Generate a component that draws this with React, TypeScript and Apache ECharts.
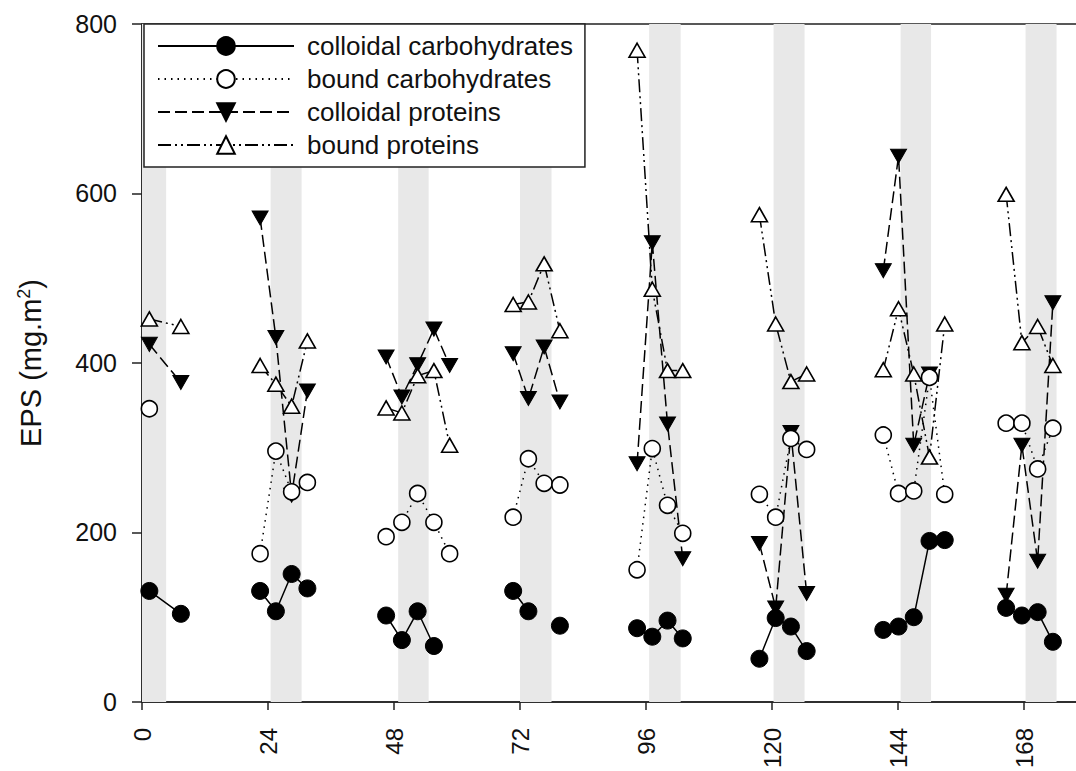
import React, { useEffect, useRef } from "react";
import * as echarts from "echarts";

// Sampling times (h) for each day-group of measurements
const sampleTimes: number[][] = [
  [1.4, 7.4],
  [22.5, 25.5, 28.5, 31.5],
  [46.5, 49.5, 52.5, 55.6, 58.6],
  [70.7, 73.6, 76.6, 79.6],
  [94.3, 97.2, 100.1, 103.0],
  [117.6, 120.7, 123.6, 126.6],
  [141.2, 144.1, 147.0, 150.0, 152.9],
  [164.6, 167.6, 170.6, 173.5],
];

const colloidalCarbs: (number | null)[][] = [
  [131, 104],
  [131, 107, 151, 134],
  [102, 73, 107, 66, null],
  [131, 107, null, 90],
  [87, 77, 96, 75],
  [51, 99, 89, 60],
  [85, 89, 100, 190, 191],
  [111, 102, 106, 71],
];

const boundCarbs: (number | null)[][] = [
  [346, null],
  [175, 296, 248, 259],
  [195, 212, 246, 212, 175],
  [218, 287, 258, 256],
  [156, 299, 232, 199],
  [245, 218, 311, 298],
  [315, 246, 249, 383, 245],
  [329, 329, 275, 323],
];

const colloidalProteins: (number | null)[][] = [
  [422, 377],
  [571, 430, 244, 367],
  [407, 360, 398, 440, 397],
  [411, 358, 419, 354],
  [281, 542, 328, 169],
  [187, 111, 318, 128],
  [509, 644, 303, 387, null],
  [126, 303, 166, 471],
];

const boundProteins: (number | null)[][] = [
  [452, 443],
  [397, 375, 349, 426],
  [347, 341, 385, 391, 303],
  [469, 472, 517, 438],
  [769, 487, 391, 391],
  [575, 446, 378, 387],
  [392, 464, 387, 289, 446],
  [599, 424, 443, 397],
];

// Shaded (dark) periods, hours
const darkBands: [number, number][] = [
  [0, 4.6],
  [24.5, 30.4],
  [48.8, 54.6],
  [72, 78],
  [96.6, 102.6],
  [120.3, 126.2],
  [144.5, 150.3],
  [168.3, 174.2],
];

const seriesNames = [
  "colloidal carbohydrates",
  "bound carbohydrates",
  "colloidal proteins",
  "bound proteins",
];

const xTicks = { min: 0, max: 180, interval: 24 };
const yTicks = { min: 0, max: 800, interval: 200 };

const FONT = "'Liberation Sans', Arial, Helvetica, sans-serif";

function buildData(groups: (number | null)[][]) {
  const out: any[] = [];
  groups.forEach((vals, g) => {
    const ts = sampleTimes[g];
    vals.forEach((v, i) => out.push([ts[i], v === null ? "-" : v]));
    out.push([ts[ts.length - 1] + 1, "-"]);
  });
  return out;
}

const DOWN_TRI = "path://M0,0 L16,0 L8,14 Z";

export default function App() {
  const ref = useRef<HTMLDivElement>(null);
  useEffect(() => {
    document.body.style.margin = "0";
    document.body.style.overflow = "hidden";
    if (!ref.current) return;
    const chart = echarts.init(ref.current, undefined, { renderer: "svg" });
    const line = (type: any) => ({ color: "#000", width: 1.5, type });
    chart.setOption({
      animation: false,
      backgroundColor: "#fff",
      grid: {
        left: 142,
        right: 0,
        top: 24,
        bottom: 67,
        show: true,
        borderColor: "#222",
        borderWidth: 1.5,
        backgroundColor: "transparent",
      },
      legend: {
        data: seriesNames,
        orient: "vertical",
        left: 144,
        top: 24,
        itemWidth: 136,
        itemHeight: 22,
        itemGap: 7,
        padding: [9, 12, 9, 13],
        backgroundColor: "#fff",
        borderColor: "#222",
        borderWidth: 1.5,
        borderRadius: 0,
        selectedMode: false,
        z: 10,
        textStyle: {
          fontFamily: FONT,
          fontSize: 26,
          color: "#111",
          padding: [0, 0, 0, 8],
        },
      },
      xAxis: {
        type: "value",
        min: xTicks.min,
        max: xTicks.max,
        interval: xTicks.interval,
        axisLine: { show: true, onZero: false, lineStyle: { color: "#222", width: 1.5 } },
        axisTick: { show: true, length: 8, lineStyle: { color: "#222", width: 1.5 } },
        splitLine: { show: false },
        axisLabel: {
          rotate: 90,
          margin: 26,
          fontFamily: FONT,
          fontSize: 24,
          color: "#111",
          showMaxLabel: false,
        },
      },
      yAxis: {
        type: "value",
        min: yTicks.min,
        max: yTicks.max,
        interval: yTicks.interval,
        name: "{n|EPS (mg.m}{sup|2}{n|)}",
        nameLocation: "middle",
        nameRotate: 90,
        nameGap: 95,
        nameTextStyle: {
          fontFamily: FONT,
          fontSize: 29,
          color: "#111",
          rich: {
            n: { fontFamily: FONT, fontSize: 29, color: "#111", lineHeight: 32 },
            sup: {
              fontFamily: FONT,
              fontSize: 18,
              color: "#111",
              lineHeight: 18,
              verticalAlign: "top",
            },
          },
        },
        axisLine: { show: true, lineStyle: { color: "#222", width: 1.5 } },
        axisTick: { show: true, length: 10, lineStyle: { color: "#222", width: 1.5 } },
        splitLine: { show: false },
        axisLabel: { margin: 25, fontFamily: FONT, fontSize: 25, color: "#111" },
      },
      series: [
        {
          name: "bands",
          type: "line",
          data: [[0, "-"]],
          silent: true,
          z: 1,
          symbol: "none",
          markArea: {
            silent: true,
            itemStyle: { color: "#e8e8e8" },
            data: darkBands.map(([a, b]) => [{ xAxis: a }, { xAxis: b }]),
          },
        },
        {
          name: seriesNames[0],
          type: "line",
          data: buildData(colloidalCarbs),
          symbol: "circle",
          symbolSize: 17,
          connectNulls: false,
          z: 3,
          itemStyle: { color: "#000", borderColor: "#000", borderWidth: 1 },
          lineStyle: line("solid"),
        },
        {
          name: seriesNames[2],
          type: "line",
          data: buildData(colloidalProteins),
          symbol: DOWN_TRI,
          symbolSize: [16, 14],
          connectNulls: false,
          z: 3,
          itemStyle: { color: "#000", borderColor: "#000", borderWidth: 1 },
          lineStyle: line([12, 5]),
        },
        {
          name: seriesNames[1],
          type: "line",
          data: buildData(boundCarbs),
          symbol: "circle",
          symbolSize: 16,
          connectNulls: false,
          z: 3,
          itemStyle: { color: "#fff", borderColor: "#000", borderWidth: 1.6 },
          lineStyle: line([1.5, 5]),
        },
        {
          name: seriesNames[3],
          type: "line",
          data: buildData(boundProteins),
          symbol: "triangle",
          symbolSize: [16, 14],
          connectNulls: false,
          z: 3,
          itemStyle: { color: "#fff", borderColor: "#000", borderWidth: 1.6 },
          lineStyle: line([13, 4, 2, 4, 2, 4]),
        },
      ],
    });
    return () => chart.dispose();
  }, []);
  return <div ref={ref} style={{ width: 1087, height: 771 }} />;
}
